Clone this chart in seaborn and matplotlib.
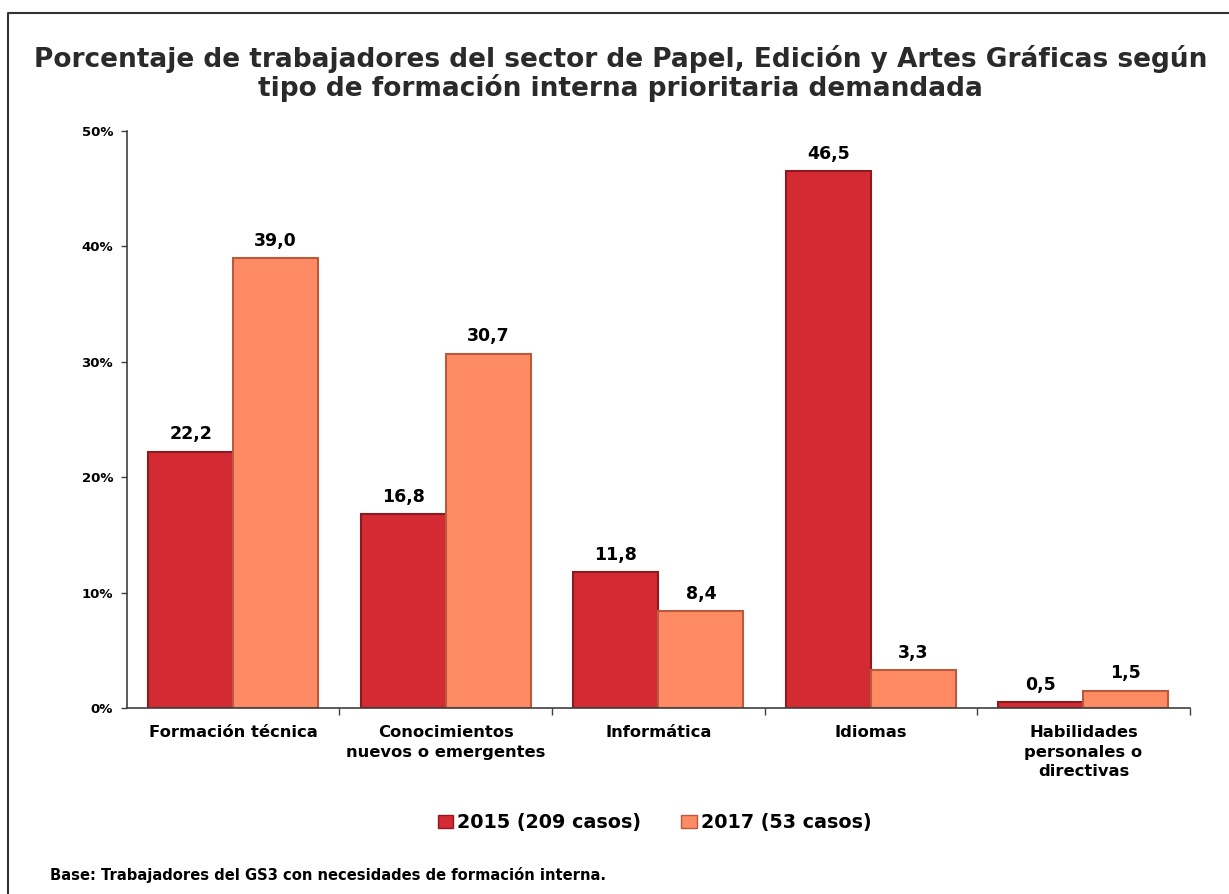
import matplotlib
matplotlib.use("Agg")
import matplotlib.pyplot as plt
import seaborn as sns
import pandas as pd
import numpy as np
from matplotlib.lines import Line2D
from matplotlib.patches import Patch
from matplotlib.ticker import FixedLocator, FuncFormatter

categories = ["Formación técnica", "Conocimientos\nnuevos o emergentes", "Informática",
              "Idiomas", "Habilidades\npersonales o\ndirectivas"]
series_names = ["2015 (209 casos)", "2017 (53 casos)"]
values_2015 = [22.2, 16.8, 11.8, 46.5, 0.5]
values_2017 = [39.0, 30.7, 8.4, 3.3, 1.5]
colors = ["#D32A33", "#FF8B64"]
edge_colors = ["#8E1A1F", "#B85A3C"]

df = pd.DataFrame({
    "cat": categories * 2,
    "serie": [series_names[0]] * 5 + [series_names[1]] * 5,
    "val": values_2015 + values_2017,
})

sns.set_theme(style="white")
plt.rcParams["font.family"] = ["DejaVu Sans"]
plt.rcParams["font.weight"] = "bold"
plt.rcParams["text.color"] = "black"
plt.rcParams["xtick.color"] = "black"
plt.rcParams["ytick.color"] = "black"

fig = plt.figure(figsize=(12.29, 8.94), dpi=100)
ax = fig.add_axes([0.1033, 0.208, 0.8647, 0.6455])

sns.barplot(data=df, x="cat", y="val", hue="serie", order=categories,
            hue_order=series_names, palette=colors, width=0.8, ax=ax,
            legend=False, saturation=1)

for cont, ec in zip(ax.containers, edge_colors):
    for p in cont:
        p.set_edgecolor(ec)
        p.set_linewidth(1.5)
    ax.bar_label(cont, labels=[f"{v:.1f}".replace(".", ",") for v in cont.datavalues],
                 padding=6, fontsize=12.5, fontweight="bold", color="black")

ax.set_ylim(0, 50)
ax.set_xlim(-0.5, 4.5)
ax.set_yticks([0, 10, 20, 30, 40, 50])
ax.yaxis.set_major_formatter(FuncFormatter(lambda v, p: f"{int(v)}%"))
ax.tick_params(axis="y", labelsize=9.5, length=4, width=1, color="#404040", left=True, pad=6)
for t in ax.get_yticklabels():
    t.set_fontweight("bold")
ax.set_xticks(range(len(categories)), labels=categories, linespacing=1.4,
              fontweight="bold", fontsize=11.8)
ax.tick_params(axis="x", length=0, pad=12)
ax.xaxis.set_minor_locator(FixedLocator([0.5, 1.5, 2.5, 3.5, 4.5]))
ax.tick_params(axis="x", which="minor", length=5, width=1, color="#404040", bottom=True)
ax.set_xlabel("")
ax.set_ylabel("")
for s in ["top", "right"]:
    ax.spines[s].set_visible(False)
for s in ["left", "bottom"]:
    ax.spines[s].set_color("#404040")
    ax.spines[s].set_linewidth(1.2)

fig.text(0.505, 0.918, "Porcentaje de trabajadores del sector de Papel, Edición y Artes Gráficas según\ntipo de formación interna prioritaria demandada",
         ha="center", va="center", fontsize=19, fontweight="bold", color="#2a2a2a", linespacing=1.05)

handles = [Patch(facecolor=c, edgecolor=e, linewidth=1) for c, e in zip(colors, edge_colors)]
fig.legend(handles, series_names, loc="center", bbox_to_anchor=(0.5326, 0.08), ncol=2,
           frameon=False, prop={"size": 13.8, "weight": "bold"}, handlelength=0.8,
           handleheight=0.7, handletextpad=0.2, columnspacing=2.1)

fig.text(0.041, 0.021, "Base: Trabajadores del GS3 con necesidades de formación interna.",
         ha="left", va="center", fontsize=10.6, fontweight="bold")

fig.lines.append(Line2D([0.0068, 0.0068, 1.0], [0.0, 0.9855, 0.9855], transform=fig.transFigure,
                        color="#333333", linewidth=1.5))

fig.savefig("out.png", dpi=100)
